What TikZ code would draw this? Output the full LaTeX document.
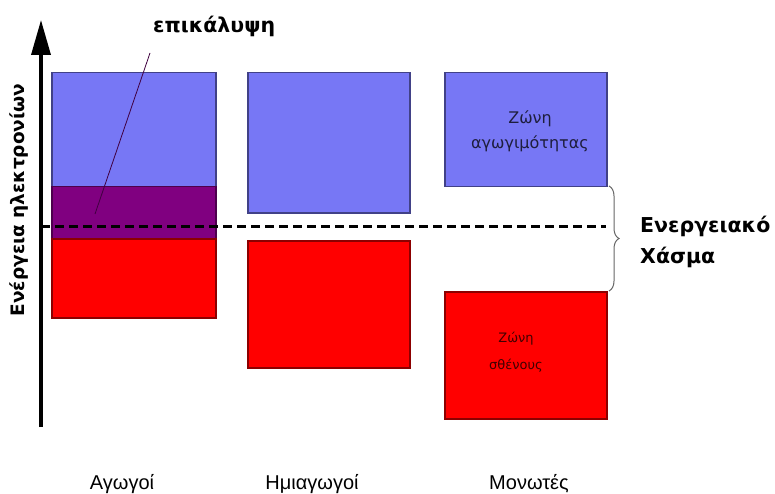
\documentclass[tikz,border=0pt]{standalone}
\usepackage{fontspec}
\setmainfont{Liberation Sans}
\newfontfamily\djv{DejaVu Sans}
\usetikzlibrary{decorations.pathreplacing,arrows.meta}
\definecolor{cband}{HTML}{7777F5}
\definecolor{vband}{HTML}{FF0000}
\definecolor{oband}{HTML}{800080}
\tikzset{
  band/.style={anchor=north west,inner sep=0pt,line width=1.5pt},
  cb/.style={band,fill=cband,draw=cband!55!black},
  vb/.style={band,fill=vband,draw=vband!55!black},
  ob/.style={band,fill=oband,draw=oband!60!black},
  boldlbl/.style={inner sep=0pt,font=\djv\bfseries\fontsize{20.5}{24}\selectfont},
  bandtxt/.style={inner sep=0pt,align=center},
  bottomlbl/.style={inner sep=0pt,font=\fontsize{20}{22}\selectfont},
}
\begin{document}
\begin{tikzpicture}[x=1pt,y=-1pt]
\useasboundingbox[fill=white] (0,0) rectangle (775,494);
% axis
\coordinate (axb) at (41,427);
\coordinate (axt) at (41,20);
\draw[line width=3.5pt,-{Triangle[length=35pt,width=19pt]}] (axb) -- (axt);
\node[rotate=90,inner sep=0pt,font=\djv\bfseries\fontsize{18.5}{20}\selectfont] (axlbl) at (19,200) {Ενέργεια ηλεκτρονίων};
% conductors
\node[cb,minimum width=164,minimum height=114] (c1) at (51,72) {};
\node[ob,minimum width=164,minimum height=52] (o1) at (51,186) {};
\node[vb,minimum width=164,minimum height=79] (v1) at (51,238) {};
% semiconductors
\node[cb,minimum width=162,minimum height=140] (c2) at (247,72) {};
\node[vb,minimum width=162,minimum height=127] (v2) at (247,240) {};
% insulators
\node[cb,minimum width=162,minimum height=114] (c3) at (444,72) {};
\node[vb,minimum width=162,minimum height=127] (v3) at (444,291) {};
\node[bandtxt,text=cband!25!black,font=\djv\fontsize{16}{25}\selectfont] (t3) at (530,131) {Ζώνη\\αγωγιμότητας};
\node[bandtxt,text=vband!25!black,font=\djv\fontsize{13}{27}\selectfont] (t4) at (516,352) {Ζώνη\\σθένους};
% dashed Fermi level
\coordinate (fl) at (41,226);
\coordinate (fr) at (606,226);
\draw[line width=3pt,dash pattern=on 9pt off 5pt] (fl) -- (fr);
% overlap label
\node[boldlbl,anchor=base west] (ov) at (153,33) {επικάλυψη};
\coordinate (ovs) at (150,53);
\coordinate (ove) at (95,214);
\draw[line width=0.8pt,draw=oband!50!black] (ovs) -- (ove);
% gap brace
\coordinate (bt) at (609,186);
\coordinate (bb) at (609,291);
\draw[line width=1pt,draw=black!60,decorate,decoration={brace,amplitude=10pt,aspect=0.5}] (bt) -- (bb);
\node[boldlbl,anchor=base west] (gap1) at (640,233) {Ενεργειακό};
\node[boldlbl,anchor=base west] (gap2) at (640,263) {Χάσμα};
% bottom labels
\node[bottomlbl,anchor=base] (l1) at (122,489) {Αγωγοί};
\node[bottomlbl,anchor=base] (l2) at (312,489) {Ημιαγωγοί};
\node[bottomlbl,anchor=base] (l3) at (529,489) {Μονωτές};
\end{tikzpicture}
\end{document}
